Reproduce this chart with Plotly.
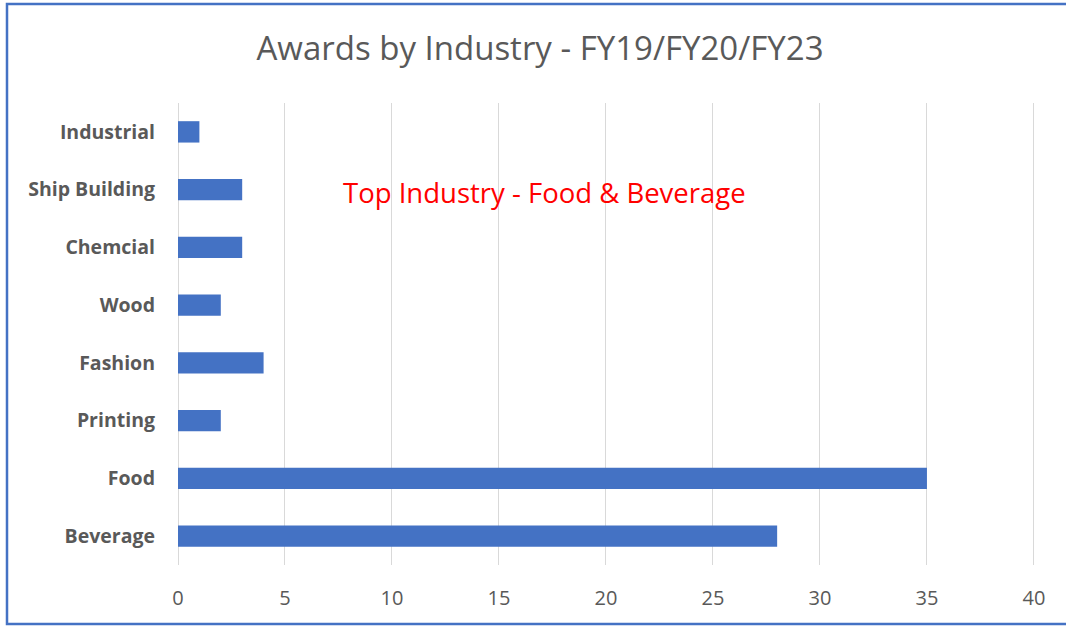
import plotly.graph_objects as go

categories = ["Beverage", "Food", "Printing", "Fashion", "Wood", "Chemcial", "Ship Building", "Industrial"]
values = [28, 35, 2, 4, 2, 3, 3, 1]
x_ticks = [0, 5, 10, 15, 20, 25, 30, 35, 40]

fig = go.Figure(go.Bar(
    y=categories, x=values, orientation="h",
    marker=dict(color="#4472C4", line=dict(width=0)),
    width=0.37,
))

fig.update_layout(
    width=1066, height=626,
    margin=dict(l=178, r=31, t=103, b=61),
    paper_bgcolor="white", plot_bgcolor="white",
    showlegend=False,
    title=dict(text="Awards by Industry - FY19/FY20/FY23", x=540/1066, xanchor="center",
               y=1 - 48/626, yanchor="middle",
               font=dict(family="Open Sans", size=33, color="#595959")),
    xaxis=dict(range=[0, 40.05], tickvals=x_ticks, showgrid=True, gridcolor="#d9d9d9", gridwidth=1,
               zeroline=True, zerolinecolor="#d9d9d9", zerolinewidth=1,
               showline=False, ticks="", ticklabelstandoff=19,
               tickfont=dict(family="Open Sans", size=20, color="#595959")),
    yaxis=dict(categoryorder="array", categoryarray=categories, showgrid=False, zeroline=False,
               showline=False, ticks="", ticklabelstandoff=22,
               tickfont=dict(family="Open Sans", size=19.5, color="#595959", weight="bold")),
    shapes=[dict(type="rect", xref="paper", yref="paper", x0=-178/857 + 7/857, x1=1.2,
                 y0=-(61 - 2)/462, y1=1 + (103 - 4)/462,
                 line=dict(color="#4472C4", width=2.5), fillcolor="rgba(0,0,0,0)", layer="below")],
    annotations=[dict(text="Top Industry - Food & Beverage", x=(545 - 178)/21.4, y="Ship Building", yshift=-3,
                      xref="x", yref="y", showarrow=False,
                      font=dict(family="Open Sans", size=27.5, color="#FF0000"))],
)

fig.write_html("out.html", config={"displayModeBar": False},
               post_script="document.body.style.margin='0';")
